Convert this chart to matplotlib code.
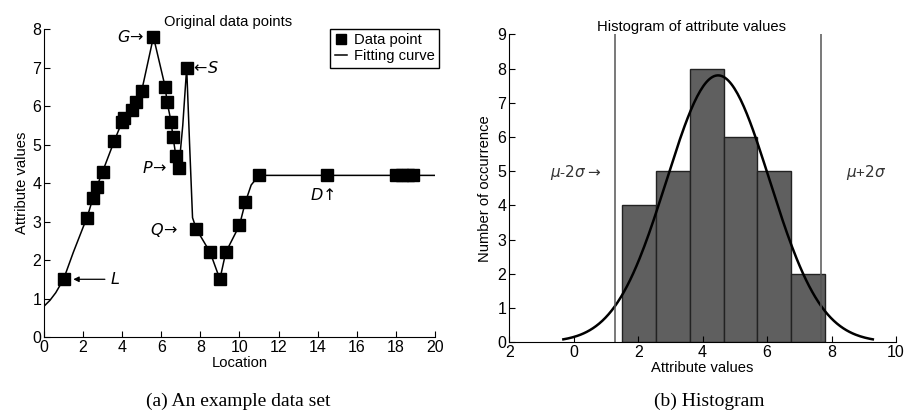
import numpy as np
import matplotlib.pyplot as plt

plt.rcParams['font.family'] = ['Liberation Sans', 'DejaVu Sans']
plt.rcParams['mathtext.fontset'] = 'dejavusans'

# data points
loc = [1.0, 2.2, 2.5, 2.7, 3.0, 3.6, 4.0, 4.1, 4.5, 4.7, 5.0, 5.6, 6.2, 6.3,
       6.5, 6.6, 6.75, 6.9, 7.3, 7.8, 8.5, 9.0, 9.3, 10.0, 10.3, 11.0, 14.5,
       18.0, 18.3, 18.6, 18.9]
vals = [1.5, 3.1, 3.6, 3.9, 4.3, 5.1, 5.6, 5.7, 5.9, 6.1, 6.4, 7.8, 6.5, 6.1,
        5.6, 5.2, 4.7, 4.4, 7.0, 2.8, 2.2, 1.5, 2.2, 2.9, 3.5, 4.2, 4.2,
        4.2, 4.2, 4.2, 4.2]

# fitting curve points
curve_x = [0.0, 0.3, 0.6, 1.0, 1.5, 2.0, 2.2, 2.5, 2.7, 3.0, 3.6, 4.0, 4.1, 4.5,
           4.7, 5.0, 5.6, 6.2, 6.3, 6.5, 6.6, 6.75, 6.9, 7.1, 7.3, 7.45, 7.6,
           7.8, 8.5, 9.0, 9.3, 10.0, 10.3, 10.6, 11.0, 14.5, 20.0]
curve_y = [0.8, 0.95, 1.15, 1.5, 2.2, 2.85, 3.1, 3.6, 3.9, 4.3, 5.1, 5.6, 5.7,
           5.9, 6.1, 6.4, 7.8, 6.5, 6.1, 5.6, 5.2, 4.7, 4.4, 5.5, 7.0, 5.0,
           3.1, 2.8, 2.2, 1.5, 2.2, 2.9, 3.5, 3.95, 4.2, 4.2, 4.2]

# histogram of panel (b)
bin_edges = [1.5, 2.55, 3.6, 4.65, 5.7, 6.75, 7.8]
counts = [4, 5, 8, 6, 5, 2]
mu, sigma, peak = 4.48, 1.6, 7.8

fig = plt.figure(figsize=(9.07, 4.2), dpi=100)

# ---- (a) original data
ax1 = fig.add_axes([0.0485, 0.1976, 0.431, 0.733])
ax1.plot(curve_x, curve_y, '-', color='black', lw=1.1, label='Fitting curve')
ax1.plot(loc, vals, 's', color='black', ms=8, label='Data point')
ax1.set_xlim(0, 20)
ax1.set_ylim(0, 8)
ax1.set_xticks(range(0, 21, 2))
ax1.set_yticks(range(0, 9))
ax1.set_xlabel('Location', fontsize=10.6, labelpad=1)
ax1.set_ylabel('Attribute values', fontsize=10.6, labelpad=2)
ax1.set_title('Original data points', fontsize=10.6, x=0.47, pad=2)
h, l = ax1.get_legend_handles_labels()
ax1.legend(h[::-1], l[::-1], loc='upper right', bbox_to_anchor=(1.03, 1.025),
           fontsize=10.6, frameon=True, fancybox=False, edgecolor='black',
           framealpha=1, handlelength=0.8, handletextpad=0.5, borderpad=0.3,
           labelspacing=0.15, markerscale=0.9)

ital = dict(fontsize=11.5, ha='left', va='center')
ax1.text(3.75, 7.8, r'$G\!\rightarrow$', **ital)
ax1.text(7.45, 7.0, r'$\leftarrow\!S$', **ital)
ax1.text(5.0, 4.4, r'$P\!\rightarrow$', **ital)
ax1.text(5.4, 2.78, r'$Q\!\rightarrow$', **ital)
ax1.text(13.6, 3.7, r'$D\!\uparrow$', **ital)
ax1.annotate(r'$L$', xy=(1.5, 1.5), xytext=(3.4, 1.5), fontsize=11.5,
             va='center', ha='left',
             arrowprops=dict(arrowstyle='-|>', color='black', lw=0.9,
                             shrinkA=2, shrinkB=0, mutation_scale=8))

# ---- (b) histogram
ax2 = fig.add_axes([0.5614, 0.185, 0.4265, 0.7333])
ax2.hist(np.array(bin_edges[:-1]) + 0.01, bins=bin_edges, weights=counts,
         color='#5f5f5f', edgecolor='#222222', lw=1.0)
gx = np.linspace(mu - 3 * sigma, mu + 3 * sigma, 200)
ax2.plot(gx, peak * np.exp(-(gx - mu) ** 2 / (2 * sigma ** 2)), color='black', lw=1.8)
for xv in (mu - 2 * sigma, mu + 2 * sigma):
    ax2.axvline(xv, color='#555555', lw=1.1)
ax2.text(-0.73, 4.95, r'$\mu$-$2\sigma\rightarrow$', fontsize=11, ha='left',
         va='center', color='#333333')
ax2.text(8.45, 4.95, r'$\mu$+$2\sigma$', fontsize=11, ha='left',
         va='center', color='#333333')
ax2.set_xlim(-2, 10)
ax2.set_ylim(0, 9)
ax2.set_xticks(range(-2, 11, 2))
ax2.set_xticklabels(['2', '0', '2', '4', '6', '8', '10'])
ax2.set_yticks(range(0, 10))
ax2.set_xlabel('Attribute values', fontsize=10.6, labelpad=1)
ax2.set_ylabel('Number of occurrence', fontsize=10.6, labelpad=4)
ax2.set_title('Histogram of attribute values', fontsize=10.6, x=0.47, pad=2)

for ax in (ax1, ax2):
    ax.spines['top'].set_visible(False)
    ax.spines['right'].set_visible(False)
    ax.tick_params(direction='in', length=4, labelsize=11.5, pad=2)

fig.text(0.263, 0.045, '(a) An example data set', fontsize=14,
         family=['Liberation Serif'], ha='center', va='center')
fig.text(0.782, 0.045, '(b) Histogram', fontsize=14,
         family=['Liberation Serif'], ha='center', va='center')

fig.savefig('out.png', dpi=100)
